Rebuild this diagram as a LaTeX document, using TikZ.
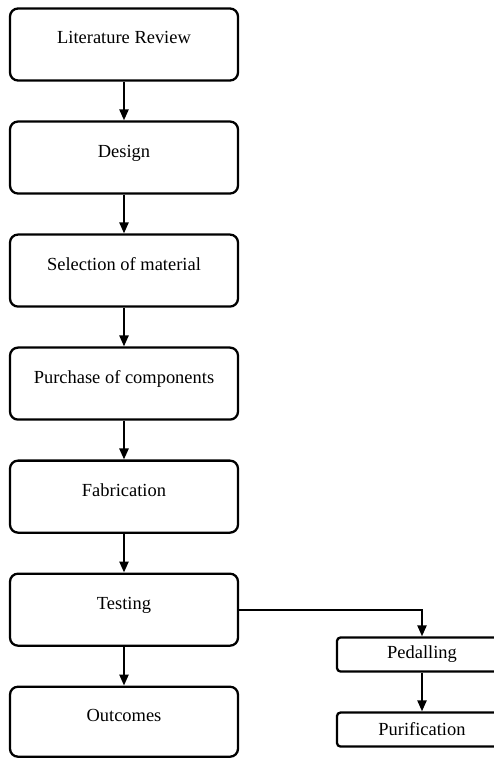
\documentclass[tikz,border=0pt]{standalone}
\usepackage{fontspec}
\setmainfont{Liberation Serif}
\usepackage{tikz}
\usetikzlibrary{arrows.meta, positioning}

\begin{document}
\begin{tikzpicture}[
    node distance=0.775cm,
    stage/.style={rectangle, draw, line width=1.3pt, rounded corners=1.6mm, minimum width=4.56cm, minimum height=1.44cm, font=\fontsize{10.5}{12}\selectfont, text height=9pt, text depth=9.6pt},
    substage/.style={rectangle, draw, line width=1.3pt, rounded corners=0.7mm, minimum width=3.4cm, minimum height=0.68cm, font=\fontsize{10.5}{12}\selectfont},
    arrow/.style={-{Triangle[length=2.2mm, width=1.8mm]}, line width=1.3pt}
]
\useasboundingbox (0,0) rectangle (9.86,-15.16);

% Main stages
\node[stage] (review) at (2.48,-0.89) {Literature Review};
\node[stage, below=of review] (design) {Design};
\node[stage, below=of design] (material) {Selection of material};
\node[stage, below=of material] (purchase) {Purchase of components};
\node[stage, below=of purchase] (fabrication) {Fabrication};
\node[stage, below=of fabrication] (testing) {Testing};
\node[stage, below=of testing, minimum height=1.4cm] (outcomes) {Outcomes};

% Side branch
\node[substage] (pedalling) at (8.44,-13.09) {Pedalling};
\node[substage, below=of pedalling] (purification) {Purification};

\draw[arrow] (review) -- (design);
\draw[arrow] (design) -- (material);
\draw[arrow] (material) -- (purchase);
\draw[arrow] (purchase) -- (fabrication);
\draw[arrow] (fabrication) -- (testing);
\draw[arrow] (testing) -- (outcomes);
\draw[arrow] (testing.east) -| (pedalling.north);
\draw[arrow] (pedalling) -- (purification);

\end{tikzpicture}
\end{document}
